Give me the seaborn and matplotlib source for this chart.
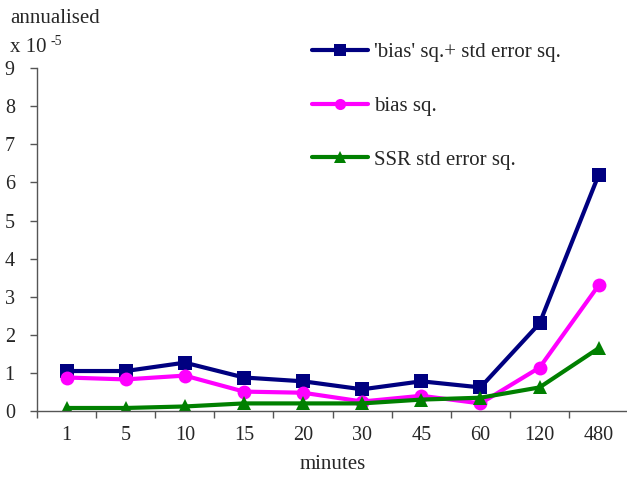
import seaborn as sns
import pandas as pd
import matplotlib.pyplot as plt
import numpy as np

minutes = ['1', '5', '10', '15', '20', '30', '45', '60', '120', '480']
total = [1.05, 1.05, 1.27, 0.88, 0.78, 0.57, 0.78, 0.62, 2.30, 6.20]
bias_sq = [0.88, 0.83, 0.93, 0.51, 0.48, 0.25, 0.40, 0.20, 1.14, 3.30]
ssr_sq = [0.08, 0.08, 0.12, 0.20, 0.20, 0.20, 0.30, 0.35, 0.62, 1.65]

names = ["'bias' sq.+ std error sq.", 'bias sq.', 'SSR std error sq.']
colors = ['#000080', '#ff00ff', '#008000']
markers = ['s', 'o', '^']

sns.set_style('white')
plt.rcParams['font.family'] = ['Liberation Serif', 'DejaVu Serif']

pos = np.arange(len(minutes))
df = pd.DataFrame({
    'pos': np.tile(pos, 3),
    'value': total + bias_sq + ssr_sq,
    'series': np.repeat(names, len(minutes)),
})

fig = plt.figure(figsize=(6.27, 4.83), dpi=100)
ax = fig.add_axes([0.059, 0.149, 0.943, 0.710])

sns.lineplot(data=df, x='pos', y='value', hue='series', style='series',
             palette=dict(zip(names, colors)), markers=dict(zip(names, markers)),
             dashes=False, linewidth=3, markersize=10, markeredgewidth=0, ax=ax)

ax.set_xlim(-0.5, len(minutes) - 0.5)
ax.set_ylim(0, 9)
ax.set_yticks(range(10))
ax.set_xticks(pos)
ax.set_xticklabels(minutes)
ax.set_xticks(np.arange(-0.5, len(minutes), 1), minor=True)
ax.tick_params(axis='x', which='major', length=0, labelsize=14.5, pad=11)
ax.tick_params(axis='x', which='minor', length=5, width=1, color='#555555', direction='out', bottom=True)
ax.tick_params(axis='y', length=5, width=1, color='#555555', direction='out', left=True, labelsize=14.5, pad=11)

for s in ['top', 'right']:
    ax.spines[s].set_visible(False)
for s in ['left', 'bottom']:
    ax.spines[s].set_color('#555555')
    ax.spines[s].set_linewidth(1)

ax.set_xlabel('minutes', fontsize=15, labelpad=7)
ax.set_ylabel('')

fig.text(0.016, 0.962, 'annualised', fontsize=15, va='center')
fig.text(0.016, 0.901, 'x 10', fontsize=15, va='center')
fig.text(0.080, 0.914, '-5', fontsize=10, va='center')

leg = ax.legend(loc='upper left', bbox_to_anchor=(0.433, 1.13), frameon=False,
                fontsize=15, labelspacing=1.65, handlelength=2.7, handletextpad=0.3)
for h in leg.legend_handles:
    h.set_markersize(8)

fig.savefig('out.png', dpi=100)
